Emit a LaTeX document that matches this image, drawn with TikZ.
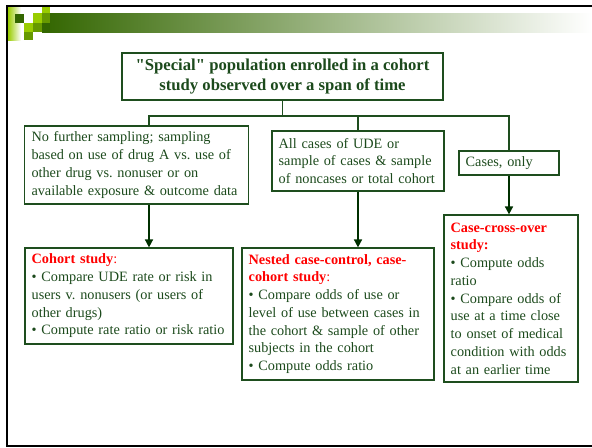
\documentclass[tikz,border=0pt]{standalone}
\usepackage{fontspec}
\setmainfont{Liberation Serif}[Ligatures=TeXOff]
\usetikzlibrary{arrows.meta}
\frenchspacing

\definecolor{hdrdark}{RGB}{51,102,0}
\definecolor{hdrolive}{RGB}{102,153,0}
\definecolor{hdrlime}{RGB}{153,204,0}
\definecolor{hdrgrey}{RGB}{186,196,180}
\definecolor{boxgreen}{RGB}{30,78,30}
\definecolor{txtgreen}{RGB}{28,74,28}
\definecolor{arrgreen}{RGB}{0,48,0}

\tikzset{every picture/.style={line width=0.75pt}}
\tikzset{
  box/.style={draw=boxgreen, line width=0.9pt, text=txtgreen, font=\fontsize{10.7}{13.3}\selectfont, align=left, inner xsep=5pt, inner ysep=2pt},
  titlebox/.style={draw=boxgreen, line width=0.9pt, text=txtgreen, font=\fontsize{12.5}{15}\selectfont\bfseries, align=center},
  link/.style={draw=boxgreen, line width=0.9pt},
  arr/.style={draw=arrgreen, line width=1.2pt, -{Triangle[width=6pt,length=6pt]}}
}
\newcommand{\redhead}[1]{\textcolor{red}{\textbf{#1}}}

\begin{document}
\begin{tikzpicture}[x=0.75pt,y=0.75pt,yscale=-1,xscale=1]
	\path[use as bounding box] (0,0) rectangle (592,447);

	%Shape: Rectangle (header bar)
	\shade [left color=hdrdark, middle color=hdrgrey, right color=white] (42,13) rectangle (592,32);
	%Shape: Rectangle (left fade)
	\shade [left color=hdrlime, right color=white] (8,7) rectangle (21,40);
	%Shape: Squares
	\fill [hdrlime] (42,7) rectangle (50,13);
	\fill [hdrdark] (15,14) rectangle (24,23);
	\fill [hdrlime] (33,13) rectangle (42,23);
	\fill [hdrolive] (42,13) rectangle (50,23);
	\fill [hdrlime] (24,23) rectangle (33,32);
	\fill [hdrolive] (33,23) rectangle (42,32);
	\fill [hdrdark] (42,23) rectangle (50,32);
	\fill [hdrolive] (24,32) rectangle (33,40);
	%Straight Lines (slide frame)
	\draw [line width=1.5pt] (592,6) -- (7,6) -- (7,446) -- (592,446) ;

	% Text Node
	\node [titlebox, minimum width=240.75pt, minimum height=35.25pt] (title) at (282.5,76.5) {"Special" population enrolled in a cohort\\study observed over a span of time};
	% Text Node
	\node [box, text width=157.5pt, minimum height=58.5pt] (nofurther) at (136.5,165) {No further sampling; sampling\\based on use of drug A vs. use of\\other drug vs. nonuser or on\\available exposure \& outcome data};
	% Text Node
	\node [box, text width=119pt, minimum height=45pt] (allcases) at (358,161) {All cases of UDE or\\sample of cases \& sample\\of noncases or total cohort};
	% Text Node
	\node [box, text width=65pt, minimum height=18pt] (casesonly) at (509,163) {Cases, only};
	% Text Node
	\node [box, text width=146pt, minimum height=72pt] (cohort) at (129,296) {\redhead{Cohort study}\textcolor{red}{:}\\• Compare UDE rate or risk in\\users v. nonusers (or users of\\other drugs)\\• Compute rate ratio or risk ratio};
	% Text Node
	\node [box, text width=134pt, minimum height=99pt] (nested) at (338,314) {\redhead{Nested case-control, case-}\\\redhead{cohort study}\textcolor{red}{:}\\• Compare odds of use or\\level of use between cases in\\the cohort \& sample of other\\subjects in the cohort\\• Compute odds ratio};
	% Text Node
	\node [box, text width=90.5pt, minimum height=125.25pt] (crossover) at (511,298.5) {\redhead{Case-cross-over}\\\redhead{study:}\\• Compute odds\\ratio\\• Compare odds of\\use at a time close\\to onset of medical\\condition with odds\\at an earlier time};

	\coordinate (leftdrop) at (149,116);

	%Straight Lines
	\draw [link] (title.south) -- (title.south |- leftdrop) ;
	\draw [link] (nofurther.north -| leftdrop) -- (leftdrop) -- (leftdrop -| casesonly.north) -- (casesonly.north) ;
	\draw [link] (allcases.north) -- (allcases.north |- leftdrop) ;
	%Straight Lines (arrows)
	\draw [arr] (nofurther.south -| leftdrop) -- (cohort.north -| leftdrop) ;
	\draw [arr] (allcases.south) -- (nested.north -| allcases.south) ;
	\draw [arr] (casesonly.south) -- (crossover.north -| casesonly.south) ;

\end{tikzpicture}
\end{document}
